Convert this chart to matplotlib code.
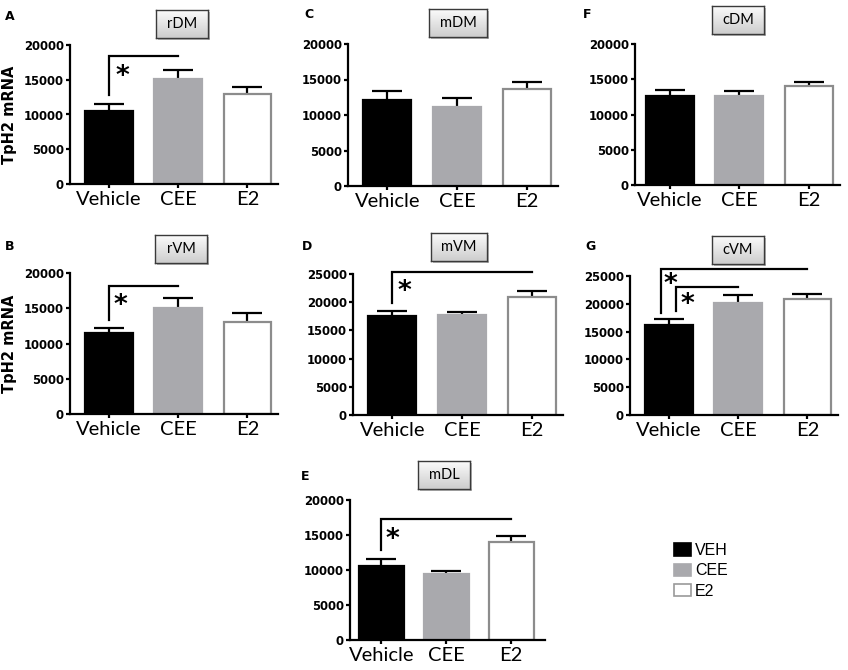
import numpy as np
import matplotlib
matplotlib.use("Agg")
import matplotlib.pyplot as plt
from matplotlib.patches import Rectangle, Patch
from matplotlib.transforms import ScaledTranslation

# ---------------- data ----------------
groups = ["Vehicle", "CEE", "E2"]
legend_labels = ["VEH", "CEE", "E2"]

rDM_mean = [10550, 15150, 12900]
rDM_sem = [950, 1250, 1000]
mDM_mean = [12090, 11060, 13600]
mDM_sem = [1320, 1270, 1080]
cDM_mean = [12560, 12560, 13980]
cDM_sem = [850, 800, 660]
rVM_mean = [11490, 14990, 13100]
rVM_sem = [660, 1460, 1270]
mVM_mean = [17600, 17700, 20900]
mVM_sem = [760, 600, 1020]
cVM_mean = [16270, 20060, 20780]
cVM_sem = [1020, 1440, 1020]
mDL_mean = [10570, 9380, 14050]
mDL_sem = [1050, 480, 760]

# ---------------- style ----------------
W, H = 848, 670
fig = plt.figure(figsize=(W / 100, H / 100), dpi=100)
fig.patch.set_facecolor("white")

face_cols = ["#000000", "#a9a9ad", "#ffffff"]
edge_cols = ["#000000", "#a9a9ad", "#8c8c8c"]
BOLDFONT = "DejaVu Sans"
XFONT = "Lato"
LEGFONT = "Liberation Sans"


def px_rect(left, right, top, bottom):
    return [left / W, 1 - bottom / H, (right - left) / W, (bottom - top) / H]


def title_box(cx, cy, text, w=52, h=28):
    sh = fig.add_axes(px_rect(cx - w / 2 + 2, cx + w / 2 + 2, cy - h / 2 + 2, cy + h / 2 + 2))
    sh.set_axis_off()
    sh.add_patch(Rectangle((0, 0), 1, 1, transform=sh.transAxes, color="#b4b4b4"))
    bx = fig.add_axes(px_rect(cx - w / 2, cx + w / 2, cy - h / 2, cy + h / 2))
    grad = np.linspace(0, 1, 64).reshape(-1, 1)
    bx.imshow(grad, cmap=matplotlib.colors.LinearSegmentedColormap.from_list(
        "g", ["#fbfbfb", "#cdcdcd"]), aspect="auto", extent=(0, 1, 0, 1), origin="upper")
    bx.set_xticks([])
    bx.set_yticks([])
    for s in bx.spines.values():
        s.set_color("#3a3a3a")
        s.set_linewidth(1.0)
    bx.text(0.5, 0.5, text, ha="center", va="center", fontsize=10.5,
            family=XFONT, transform=bx.transAxes)


def panel(rect, xlim, ymax, means, sems, letter, letter_xy, title, title_xy,
          title_w=52, ylabel=False):
    ax = fig.add_axes(px_rect(*rect))
    x = np.arange(len(groups))
    eb = ax.errorbar(x, means, yerr=[np.zeros(len(sems)), sems], fmt="none",
                     ecolor="black", elinewidth=1.6, capsize=11, capthick=1.6, zorder=1)
    eb[1][0].set_visible(False)
    ax.bar(x, means, width=0.69, color=face_cols, edgecolor=edge_cols,
           linewidth=1.6, zorder=2)
    ax.set_xlim(*xlim)
    ax.set_ylim(0, ymax)
    ax.set_yticks(np.arange(0, ymax + 1, 5000))
    ax.set_xticks(x)
    ax.set_xticklabels(groups, family=XFONT, fontsize=14.5)
    for lab in ax.get_yticklabels():
        lab.set_fontweight("bold")
        lab.set_family(BOLDFONT)
        lab.set_fontsize(8.4)
    for s in ["top", "right"]:
        ax.spines[s].set_visible(False)
    for s in ["left", "bottom"]:
        ax.spines[s].set_linewidth(1.6)
    ax.tick_params(axis="both", direction="out", length=3.2, width=1.6, pad=1.2)
    ax.tick_params(axis="x", pad=1.5)
    if ylabel:
        ax.set_ylabel("TpH2 mRNA", fontweight="bold", family=BOLDFONT, fontsize=10.5)
        ax.yaxis.set_label_coords((17 - rect[0]) / (rect[1] - rect[0]), 0.5)
    fig.text(letter_xy[0] / W, 1 - letter_xy[1] / H, letter, fontweight="bold",
             family=BOLDFONT, fontsize=9, ha="center", va="center")
    title_box(title_xy[0], title_xy[1], title, w=title_w)
    return ax


def bracket(ax, x0, x1, y, yleg, star_xy):
    ax.plot([x0, x0, x1], [yleg, y, y], color="black", lw=1.6,
            clip_on=False, zorder=3, solid_joinstyle="miter")
    tr = ax.transData + ScaledTranslation(0, -0.06, fig.dpi_scale_trans)
    ax.text(star_xy[0], star_xy[1], "*", fontsize=19, ha="center", va="center",
            family=BOLDFONT, fontweight="bold", clip_on=False, transform=tr)


# Row 1
axA = panel((70, 278, 45, 184), (-0.56, 2.44), 20000, rDM_mean, rDM_sem,
            "A", (10, 16), "rDM", (182, 24), ylabel=True)
bracket(axA, 0, 1, 18400, 12800, (0.19, 16300))
axC = panel((348, 558, 44, 186), (-0.56, 2.44), 20000, mDM_mean, mDM_sem,
            "C", (309, 15), "mDM", (458, 23), title_w=58)
axF = panel((635, 840, 44, 185), (-0.5, 2.45), 20000, cDM_mean, cDM_sem,
            "F", (587, 14), "cDM", (738, 20))

# Row 2
axB = panel((70, 278, 273, 414), (-0.56, 2.44), 20000, rVM_mean, rVM_sem,
            "B", (10, 246), "rVM", (181, 249), ylabel=True)
bracket(axB, 0, 1, 18200, 13400, (0.17, 16200))
axD = panel((353, 563, 274, 415), (-0.56, 2.44), 25000, mVM_mean, mVM_sem,
            "D", (307, 246), "mVM", (459, 247), title_w=56)
bracket(axD, 0, 2, 25350, 19850, (0.17, 22800))
axG = panel((630, 838, 276, 415), (-0.56, 2.44), 25000, cVM_mean, cVM_sem,
            "G", (590, 246), "cVM", (738, 250))
bracket(axG, -0.12, 2, 26300, 18370, (0.02, 24500))
bracket(axG, 0.10, 1, 23070, 18670, (0.27, 20800))

# Row 3
axE = panel((350, 545, 500, 640), (-0.48, 2.52), 20000, mDL_mean, mDL_sem,
            "E", (305, 477), "mDL", (444, 475))
bracket(axE, 0, 2, 17290, 12860, (0.18, 15200))

# Legend
handles = [Patch(facecolor=face_cols[i], edgecolor=["#000000", "#a9a9ad", "#9a9a9a"][i],
                 linewidth=1.2) for i in range(3)]
fig.legend(handles, legend_labels, loc="upper left",
           bbox_to_anchor=(674 / W, 1 - 543 / H), bbox_transform=fig.transFigure,
           frameon=False, borderpad=0, borderaxespad=0, handlelength=1.05,
           handleheight=0.8, handletextpad=0.25, labelspacing=0.33,
           prop={"family": LEGFONT, "size": 11.5})

fig.savefig("out.png", dpi=100, facecolor="white")
